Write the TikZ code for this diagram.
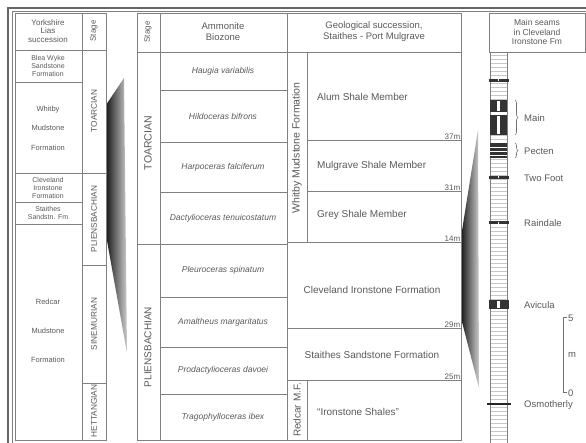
\documentclass[tikz,border=0pt]{standalone}
\usepackage{fontspec}
\setmainfont{Liberation Sans}
\usetikzlibrary{calc, positioning}
\usetikzlibrary{decorations.pathreplacing}

\begin{document}
\begin{tikzpicture}[x=1pt,y=-1pt,
  grid/.style={line width=0.7pt, draw=black!50},
  txt/.style={text=black!65, font=\fontsize{9.5}{11}\selectfont, align=center, inner sep=1pt},
  small/.style={txt, font=\fontsize{7}{7.6}\selectfont},
  ammo/.style={txt, font=\fontsize{8.5}{10}\itshape},
  stagelbl/.style={txt, rotate=90, font=\fontsize{10.5}{11}\selectfont},
  stagesm/.style={txt, rotate=90, font=\fontsize{8.3}{9}\selectfont},
  thk/.style={txt, font=\fontsize{8}{9}\selectfont, anchor=south east, inner sep=0.5pt},
  seamlbl/.style={txt, anchor=west, font=\fontsize{9.5}{10}\selectfont},
  seam/.style={fill=black!80, draw=none}]

\useasboundingbox (0,0) rectangle (586,443);

\draw[line width=1.6pt, black!60] (8,450) -- (8,8) -- (592,8);
\draw[line width=0.5pt, black!50] (12,450) -- (12,11.5) -- (592,11.5);

\shade[left color=black!90, right color=black!20] (106,105) -- (124,78) -- (127,353) -- (106,235) -- cycle;
\shade[left color=black!90, right color=black!20] (461,237) -- (478,130) -- (479,388) -- (461,318) -- cycle;

\draw[grid] (15,13) rectangle (106,440);
\draw[grid] (82,13) -- (82,440);
\draw[grid] (15,50) -- (106,50);
\draw[grid] (15,173) -- (106,173);
\foreach \y in {82,202,224} \draw[grid] (15,\y) -- (82,\y);
\foreach \y in {265,383} \draw[grid] (82,\y) -- (106,\y);

\node[txt, font=\fontsize{8}{8.5}\selectfont] (lias) at (48,31) {Yorkshire\\Lias\\succession};
\node[stagesm, font=\fontsize{8}{8}\selectfont] (lstage) at (94,31) {Stage};
\node[small] (bleawyke) at (48,66) {Blea Wyke\\Sandstone\\Formation};
\node[txt, font=\fontsize{7.5}{19.5}\selectfont] (whitbyl) at (48,128) {Whitby\\Mudstone\\Formation};
\node[small] (clevl) at (48,188) {Cleveland\\Ironstone\\Formation};
\node[small] (staithl) at (48,213) {Staithes\\Sandstn. Fm};
\node[txt, font=\fontsize{7.5}{29}\selectfont] (redcarl) at (48,331) {Redcar\\Mudstone\\Formation};
\node[stagesm] (ltoarc) at (94,111) {TOARCIAN};
\node[stagesm] (lplien) at (94,219) {PLIENSBACHIAN};
\node[stagesm] (lsinem) at (94,324) {SINEMURIAN};
\node[stagesm] (lhett) at (94,411) {HETTANGIAN};

\draw[grid] (137,13) rectangle (461,440);
\draw[grid] (160,13) -- (160,440);
\draw[grid] (287,13) -- (287,440);
\draw[grid] (137,52) -- (461,52);
\draw[grid] (137,244) -- (287,244);
\foreach \y in {90,142,192,297,347,394} \draw[grid] (160,\y) -- (287,\y);
\draw[grid] (307,52) -- (307,242);
\draw[grid] (307,380) -- (307,440);
\foreach \y in {140,191} \draw[grid] (307,\y) -- (461,\y);
\foreach \y in {242,328,380} \draw[grid] (287,\y) -- (461,\y);

\node[stagesm, font=\fontsize{8}{8}\selectfont] (mstage) at (148,32) {Stage};
\node[txt] (biozone) at (223,32) {Ammonite\\Biozone};
\node[txt] (succession) at (374,32) {Geological succession,\\Staithes - Port Mulgrave};
\node[stagelbl] (toarc) at (148,143) {TOARCIAN};
\node[stagelbl, font=\fontsize{10}{11}\selectfont] (plien) at (148,347) {PLIENSBACHIAN};

\node[ammo] (haugia) at (223,71) {Haugia variabilis};
\node[ammo] (hildo) at (223,116) {Hildoceras bifrons};
\node[ammo] (harpo) at (223,167) {Harpoceras falciferum};
\node[ammo] (dactyl) at (223,218) {Dactylioceras tenuicostatum};
\node[ammo] (pleuro) at (223,270) {Pleuroceras spinatum};
\node[ammo] (amalth) at (223,322) {Amaltheus margaritatus};
\node[ammo] (prodac) at (223,370) {Prodactylioceras davoei};
\node[ammo] (trago) at (223,417) {Tragophylloceras ibex};

\node[stagelbl] (whitbyfm) at (297,148) {Whitby Mudstone Formation};
\node[stagelbl, font=\fontsize{10}{11}\selectfont] (redcarmf) at (297,410) {Redcar M.F.};
\node[txt, anchor=west, font=\fontsize{10}{11}\selectfont] (alum) at (316,97) {Alum Shale Member};
\node[txt, anchor=west, font=\fontsize{10}{11}\selectfont] (mulgrave) at (316,166) {Mulgrave Shale Member};
\node[txt, anchor=west, font=\fontsize{10}{11}\selectfont] (grey) at (316,215) {Grey Shale Member};
\node[txt, font=\fontsize{10}{11}\selectfont] (clevfm) at (372,290) {Cleveland Ironstone Formation};
\node[txt, font=\fontsize{10}{11}\selectfont] (staithfm) at (372,355) {Staithes Sandstone Formation};
\node[txt, anchor=west, font=\fontsize{10}{11}\selectfont] (ironsh) at (316,412) {``Ironstone Shales''};
\node[thk] (t37) at (461,140) {37m};
\node[thk] (t31) at (461,191) {31m};
\node[thk] (t14) at (461,242) {14m};
\node[thk] (t29) at (461,328) {29m};
\node[thk] (t25) at (461,380) {25m};

\draw[grid] (489,13) rectangle (585,52);
\node[txt, font=\fontsize{8.5}{9.5}\selectfont] (seams) at (537,32) {Main seams\\in Cleveland\\Ironstone Fm};
\foreach \y in {55,59,...,443} \draw[black!22, line width=0.3pt] (490,\y) -- (507,\y);
\draw[grid] (490,52) -- (490,445);
\draw[grid] (507,52) -- (507,445);

\fill[seam] (489,79) rectangle (509,82);
\fill[seam] (490,100) rectangle (507,112);
\fill[seam] (490,115) rectangle (507,135);
\fill[white] (497,101) rectangle (499.5,111);
\fill[white] (497,116) rectangle (499.5,134);
\fill[seam] (490,143) rectangle (507,158);
\foreach \y in {147,151,155} \draw[white, line width=0.6pt] (490,\y) -- (507,\y);
\fill[seam] (489,176) rectangle (509,179);
\fill[seam] (489,221) rectangle (509,224.5);
\foreach \y in {80.5,177.5,222.7} \fill[white] (497.5,\y-1) rectangle (499,\y+1);
\fill[seam] (489,300) rectangle (509,309);
\fill[white] (497,301) rectangle (499.5,308);
\draw[black!85, line width=1.3pt] (487,404) -- (511,404);

\draw[black!55, line width=0.6pt, decorate, decoration={brace, amplitude=3pt}] (515,100) -- (515,135);
\draw[black!55, line width=0.6pt, decorate, decoration={brace, amplitude=3pt}] (515,143) -- (515,158);
\node[seamlbl] (main) at (523,118) {Main};
\node[seamlbl] (pecten) at (523,151) {Pecten};
\node[seamlbl] (twofoot) at (523,178) {Two Foot};
\node[seamlbl] (raindale) at (523,223) {Raindale};
\node[seamlbl] (avicula) at (523,305) {Avicula};
\node[seamlbl] (osmoth) at (523,405) {Osmotherly};

\draw[black!55, line width=0.6pt] (567,317) -- (563,317) -- (563,392) -- (567,392);
\node[txt, anchor=west, inner sep=0pt] (five) at (568,318) {5};
\node[txt, inner sep=0pt] (metre) at (572,355) {m};
\node[txt, anchor=west, inner sep=0pt] (zero) at (568,393) {0};
\end{tikzpicture}
\end{document}
